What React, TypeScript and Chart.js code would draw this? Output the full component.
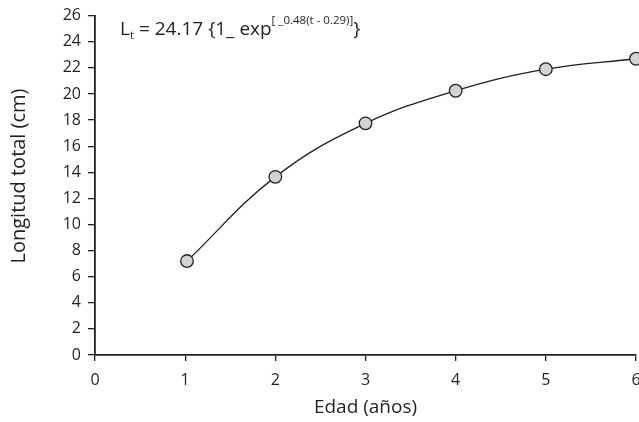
import React, { useEffect, useRef } from "react";
import { Chart, registerables } from "chart.js";

Chart.register(...registerables);

const ages = [1.02, 2.0, 3.0, 4.0, 5.0, 6.0];
const lengths = [7.2, 13.65, 17.75, 20.25, 21.9, 22.7];
const xTicks = [0, 1, 2, 3, 4, 5, 6];
const yTicks = [0, 2, 4, 6, 8, 10, 12, 14, 16, 18, 20, 22, 24, 26];
const yTitle = "Longitud total (cm)";
const xTitle = "Edad (años)";

const FONT = "'Open Sans', 'Noto Sans', sans-serif";
const INK = "#231f20";

const textPlugin = {
  id: "texts",
  afterDraw(chart: any) {
    const ctx = chart.ctx;
    ctx.save();
    ctx.fillStyle = INK;
    ctx.textBaseline = "alphabetic";
    ctx.textAlign = "left";
    let x = 120;
    const base = 35;
    const big = `19px ${FONT}`;
    const small = `11.5px ${FONT}`;
    const draw = (t: string, f: string, dy: number) => {
      ctx.font = f;
      ctx.fillText(t, x, base + dy);
      x += ctx.measureText(t).width;
    };
    draw("L", big, 0);
    draw("t", small, 4);
    draw(" = 24.17 {1_ exp", big, 0);
    draw("[ _0.48(t - 0.29)]", small, -11);
    draw("}", big, 0);

    // y-axis title
    ctx.translate(19.5, 176);
    ctx.rotate(-Math.PI / 2);
    ctx.font = `20px ${FONT}`;
    ctx.textAlign = "center";
    ctx.textBaseline = "middle";
    ctx.fillText(yTitle, 0, 0);
    ctx.restore();
  },
};

export default function App() {
  const ref = useRef<HTMLCanvasElement>(null);
  useEffect(() => {
    document.body.style.margin = "0";
    const chart = new Chart(ref.current!, {
      type: "line",
      data: {
        datasets: [
          {
            data: ages.map((a, i) => ({ x: a, y: lengths[i] })),
            borderColor: INK,
            borderWidth: 1.3,
            tension: 0.4,
            pointRadius: 6.3,
            pointBackgroundColor: "#d1d3d4",
            pointBorderColor: INK,
            pointBorderWidth: 1.3,
            clip: false as any,
          },
        ],
      },
      options: {
        animation: false,
        responsive: false,
        maintainAspectRatio: false,
        layout: { autoPadding: false, padding: { left: 0, right: 3, top: 15.7, bottom: 0 } },
        plugins: { legend: { display: false }, tooltip: { enabled: false } },
        scales: {
          x: {
            type: "linear",
            min: 0,
            max: 6,
            afterBuildTicks: (s: any) => {
              s.ticks = xTicks.map((v) => ({ value: v }));
            },
            afterFit: (s: any) => {
              s.height = 67;
              s.paddingRight = 0;
            },
            ticks: { color: INK, font: { family: FONT, size: 16 }, padding: 10 },
            grid: { drawOnChartArea: false, drawTicks: true, tickLength: 6, color: INK, lineWidth: 1.3 },
            border: { display: true, color: INK, width: 1.8 },
            title: {
              display: true,
              text: xTitle,
              color: INK,
              font: { family: FONT, size: 19 },
              padding: { top: 0, bottom: 2.6 },
            },
          },
          y: {
            min: 0,
            max: 26,
            afterBuildTicks: (s: any) => {
              s.ticks = yTicks.map((v) => ({ value: v }));
            },
            afterFit: (s: any) => {
              s.width = 95;
              s.paddingTop = 0;
              s.paddingBottom = 0;
            },
            ticks: { color: INK, font: { family: FONT, size: 16 }, padding: 7 },
            grid: { drawOnChartArea: false, drawTicks: true, tickLength: 7, color: INK, lineWidth: 1.3 },
            border: { display: true, color: INK, width: 1.8 },
            title: { display: false },
          },
        },
      },
      plugins: [textPlugin],
    } as any);
    return () => chart.destroy();
  }, []);
  return (
    <div style={{ position: "fixed", left: 0, top: 0, width: 639, height: 422 }}>
      <canvas ref={ref} width={639} height={422} style={{ width: 639, height: 422 }} />
    </div>
  );
}
